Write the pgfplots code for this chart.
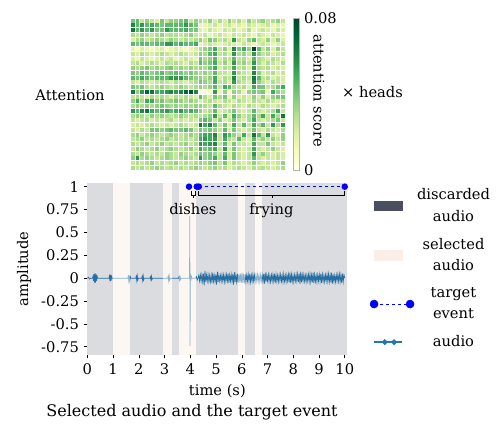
\documentclass[border=0pt]{standalone}
\usepackage{pgfplots}
\pgfplotsset{compat=1.18}
\usepackage{pgfplotstable}
\usepackage{fontspec}
\setmainfont{DejaVu Serif}

\definecolor{discdark}{HTML}{4A4E5E}
\definecolor{selbeige}{HTML}{F9EFE6}
\definecolor{audioblue}{HTML}{1F77B4}

\pgfplotsset{
  /pgf/number format/assume math mode=true,
  colormap={ylgn}{rgb255=(255,255,229) rgb255=(247,252,185) rgb255=(217,240,163)
    rgb255=(173,221,142) rgb255=(120,198,121) rgb255=(65,171,93) rgb255=(35,132,67)
    rgb255=(0,104,55) rgb255=(0,69,41)},
}

% attention scores x 1000, one line per head row, 32 columns
\pgfplotstableread[header=false]{
40 45 25 35 25 20 40 25 35 35 40 45 25 35 30 25 35 20 30 20 35 25 30 20 35 25 30 35 25 30 35 25
60 45 55 45 50 45 40 45 45 45 45 55 45 40 15 15 20 25 15 20 25 15 20 15 25 20 15 20 25 15 20 15
65 45 55 45 55 40 40 55 45 45 45 50 40 40 20 15 25 20 15 25 20 25 15 20 30 15 20 25 20 15 25 20
30 25 35 30 25 30 35 25 30 30 25 30 35 25 20 25 15 20 25 20 15 25 20 25 20 15 25 20 15 25 20 15
20 30 35 25 30 35 30 25 35 30 25 30 25 30 35 25 40 35 25 30 20 55 25 20 35 45 25 20 35 20 35 20
45 40 45 45 40 45 45 55 55 45 50 45 45 50 15 20 25 20 15 20 25 20 15 25 20 15 20 25 20 15 20 25
15 10 20 15 10 15 20 10 15 20 15 10 15 20 30 35 40 50 25 35 20 60 40 50 35 80 45 25 35 20 35 25
25 20 30 25 20 25 30 25 20 25 30 25 20 25 35 30 45 50 25 30 20 55 30 35 25 55 35 25 30 20 25 30
20 15 25 20 15 20 25 20 25 15 20 25 20 15 40 30 35 45 20 30 25 45 25 30 20 45 30 25 20 30 25 20
25 30 20 25 30 25 20 30 25 30 25 20 30 25 45 35 40 50 25 35 20 55 30 35 25 55 30 20 30 25 20 30
35 30 35 40 30 35 30 35 40 30 35 30 35 30 35 30 40 50 20 30 25 50 25 30 20 55 30 25 30 20 25 20
40 35 45 40 35 40 45 35 40 45 40 35 40 35 30 35 30 45 25 25 20 55 30 25 20 60 35 20 25 30 20 25
45 40 50 45 40 45 45 45 55 55 55 45 40 35 35 30 35 50 20 30 25 60 25 30 25 65 45 25 30 20 25 20
25 20 30 25 20 25 30 25 20 30 25 20 25 30 40 35 30 50 25 30 20 55 30 25 20 60 35 25 20 30 25 20
40 35 40 30 25 30 35 30 25 30 35 30 25 30 35 30 35 45 25 50 45 30 25 30 20 50 40 40 25 30 40 50
65 35 55 70 65 50 50 55 60 55 60 70 75 60 5 5 10 55 15 35 10 35 30 15 35 40 35 40 15 50 35 30
25 30 25 20 30 25 30 25 20 30 25 30 25 20 45 30 20 40 30 40 15 35 20 25 20 35 20 35 20 35 40 40
35 50 30 50 50 35 40 30 35 40 35 30 35 30 20 25 30 25 20 30 25 20 30 25 20 30 25 20 30 25 20 25
30 35 30 35 30 35 40 35 30 35 30 35 30 35 35 30 25 45 30 25 20 30 25 20 30 25 20 30 25 20 25 30
55 45 60 65 50 45 50 55 45 50 55 45 50 45 35 25 30 45 20 25 30 40 25 20 25 45 25 20 25 30 50 25
30 35 30 25 35 30 35 30 25 30 35 30 25 30 25 30 35 55 25 45 20 50 35 25 30 45 30 50 25 50 30 65
25 20 25 30 20 25 20 25 30 20 25 20 25 20 40 45 40 25 35 20 25 40 25 20 30 50 25 20 25 30 40 25
20 25 20 25 30 25 20 25 20 25 30 25 20 25 65 50 60 45 25 40 20 50 25 45 25 50 30 45 25 55 30 55
25 20 30 25 40 40 35 40 45 40 40 45 40 25 40 35 40 35 25 45 20 40 25 20 25 40 25 20 30 25 20 30
30 35 25 30 35 30 25 30 35 30 25 30 35 30 45 50 50 60 25 55 45 35 25 50 25 65 45 25 55 25 20 35
25 30 35 25 30 25 30 35 25 30 25 30 25 30 50 55 50 55 25 50 30 25 45 25 20 45 25 35 25 35 25 35
30 25 30 35 25 30 35 25 30 25 30 35 25 30 55 50 55 60 25 45 20 40 25 25 20 50 25 25 40 25 20 25
25 35 30 25 30 35 25 30 35 30 25 30 35 25 50 40 45 50 25 55 20 40 25 20 25 50 25 20 25 35 25 20
30 25 35 30 25 30 25 35 30 25 35 30 25 30 40 35 40 35 25 45 20 40 25 20 25 55 25 35 25 20 25 20
35 55 30 35 30 25 30 35 30 25 30 35 30 25 55 35 40 50 25 50 20 40 25 20 25 45 25 20 25 20 25 20
25 30 25 30 35 25 30 25 30 35 25 30 25 30 35 30 35 40 25 40 20 30 25 20 25 35 25 20 25 20 25 35
30 25 30 25 30 35 30 25 30 25 30 25 30 35 30 25 30 35 25 30 20 25 30 25 20 30 25 30 25 20 25 30
}\heat

\begin{document}
\fontsize{11}{13.5}\selectfont
\begin{tikzpicture}
\path[use as bounding box] (0,0) rectangle (375pt,326.25pt);

% ---- attention heatmap ----
\begin{axis}[
  at={(97.5pt,198.75pt)}, anchor=south west,
  scale only axis, width=116.25pt, height=114pt,
  xmin=-0.5, xmax=31.5, ymin=-0.5, ymax=31.5, y dir=reverse,
  axis line style={draw=none}, xtick=\empty, ytick=\empty,
  colormap name=ylgn,
  point meta min=0, point meta max=80,
  colorbar,
  colorbar style={
    xshift=6pt-0.3cm, width=4.5pt,
    ytick={0,80}, yticklabels={0,0.08},
    major tick length=0pt,
    axis line style={draw=gray!60, line width=0.4pt},
  },
]
\pgfplotsinvokeforeach{0,...,31}{
  \addplot[scatter, only marks, mark=square*, mark size=1.1pt, point meta=explicit,
    scatter/use mapped color={draw=mapped color, fill=mapped color}]
    table[x expr=#1, y expr=\coordindex, meta index=#1]{\heat};
}
\end{axis}

% ---- audio + events ----
\begin{axis}[
  at={(65.5pt,60pt)}, anchor=south west,
  scale only axis, width=195pt, height=129pt,
  xmin=0, xmax=10.1, ymin=-0.84, ymax=1.04,
  xtick={0,1,2,3,4,5,6,7,8,9,10},
  ytick={-0.75,-0.5,-0.25,0,0.25,0.5,0.75,1},
  yticklabels={-0.75,-0.5,-0.25,0,0.25,0.5,0.75,1},
  axis line style={draw=none},
  tick align=outside, xtick pos=bottom, ytick pos=left,
  major tick length=2.5pt, tick style={black, line width=0.4pt},
  xlabel={time (s)}, ylabel={amplitude},
  clip=false,
  legend style={at={(1.07,1.0)}, anchor=north west, draw=none, fill=none,
    font=\fontsize{11}{16}\selectfont, cells={align=center}, row sep=7pt},
]
% waveform
\addplot[audioblue, line width=0.55pt, forget plot] coordinates {
(0,0)(0.05,0.01)(0.08,-0.01)(0.12,0)(0.20,0)(0.22,0.02)(0.24,-0.03)(0.26,0.045)(0.28,-0.05)
(0.30,0.055)(0.32,-0.05)(0.34,0.04)(0.36,-0.03)(0.38,0.02)(0.40,0)
(0.84,0)(0.86,0.025)(0.88,-0.035)(0.90,0.035)(0.92,-0.03)(0.94,0.02)(0.96,0)
(1.57,0)(1.59,0.02)(1.61,-0.03)(1.63,0.03)(1.65,-0.025)(1.67,0.015)(1.69,0)
(1.88,0)(1.90,0.02)(1.92,-0.025)(1.94,0.025)(1.96,-0.02)(1.98,0)
(2.11,0)(2.13,0.02)(2.15,-0.025)(2.17,0.025)(2.19,-0.02)(2.21,0)
(2.43,0)(2.45,0.015)(2.47,-0.02)(2.49,0.02)(2.51,-0.015)(2.53,0)
(3.12,0)(3.14,0.02)(3.16,-0.025)(3.18,0.025)(3.20,-0.02)(3.22,0)
(3.54,0)(3.56,0.015)(3.58,-0.02)(3.60,0.02)(3.62,-0.015)(3.64,0)
(3.97,0)(3.98,0.68)(3.99,-0.74)(4.00,0.05)(4.02,-0.03)(4.04,0.02)(4.06,0)
(4.20,0)(4.24,0.015)(4.27,-0.02)
(4.30,0.00)(4.33,0.03)(4.36,-0.03)(4.39,0.035)(4.42,-0.03)(4.45,0.04)(4.48,-0.035)(4.51,0.05)
(4.54,-0.08)(4.57,0.08)(4.60,-0.04)(4.63,0.035)(4.66,-0.03)(4.69,0.04)(4.72,-0.035)(4.75,0.03)
(4.78,-0.04)(4.81,0.035)(4.84,-0.05)(4.87,0.06)(4.90,-0.035)(4.93,0.03)(4.96,-0.035)(4.99,0.04)
(5.02,-0.07)(5.05,0.07)(5.08,-0.04)(5.11,0.035)(5.14,-0.03)(5.17,0.03)(5.20,-0.035)(5.23,0.04)
(5.26,-0.03)(5.29,0.035)(5.32,-0.04)(5.35,0.03)(5.38,-0.035)(5.41,0.04)(5.44,-0.03)(5.47,0.05)
(5.50,-0.05)(5.53,0.035)(5.56,-0.03)(5.59,0.04)(5.62,-0.035)(5.65,0.045)(5.68,-0.07)(5.71,0.065)
(5.74,-0.04)(5.77,0.035)(5.80,-0.04)(5.83,0.045)(5.86,-0.05)(5.89,0.05)(5.92,-0.045)(5.95,0.05)
(5.98,-0.055)(6.01,0.06)(6.04,-0.05)(6.07,0.045)(6.10,-0.05)(6.13,0.04)(6.16,-0.04)(6.19,0.035)
(6.22,-0.03)(6.25,0.04)(6.28,-0.035)(6.31,0.05)(6.34,-0.04)(6.37,0.03)(6.40,-0.035)(6.43,0.04)
(6.46,-0.03)(6.49,0.035)(6.52,-0.04)(6.55,0.035)(6.58,-0.03)(6.61,0.04)(6.64,-0.035)(6.67,0.03)
(6.70,-0.04)(6.73,0.035)(6.76,-0.03)(6.79,0.04)(6.82,-0.035)(6.85,0.045)(6.88,-0.06)(6.91,0.06)
(6.94,-0.04)(6.97,0.035)(7.00,-0.03)(7.03,0.04)(7.06,-0.035)(7.09,0.03)(7.12,-0.04)(7.15,0.035)
(7.18,-0.03)(7.21,0.04)(7.24,-0.035)(7.27,0.05)(7.30,-0.05)(7.33,0.04)(7.36,-0.035)(7.39,0.03)
(7.42,-0.04)(7.45,0.035)(7.48,-0.03)(7.51,0.04)(7.54,-0.035)(7.57,0.03)(7.60,-0.04)(7.63,0.045)
(7.66,-0.035)(7.69,0.03)(7.72,-0.04)(7.75,0.035)(7.78,-0.03)(7.81,0.04)(7.84,-0.045)(7.87,0.06)
(7.90,-0.055)(7.93,0.04)(7.96,-0.035)(7.99,0.03)(8.02,-0.04)(8.05,0.035)(8.08,-0.03)(8.11,0.04)
(8.14,-0.035)(8.17,0.045)(8.20,-0.04)(8.23,0.05)(8.26,-0.065)(8.29,0.07)(8.32,-0.045)(8.35,0.035)
(8.38,-0.03)(8.41,0.04)(8.44,-0.035)(8.47,0.03)(8.50,-0.04)(8.53,0.035)(8.56,-0.03)(8.59,0.04)
(8.62,-0.035)(8.65,0.045)(8.68,-0.04)(8.71,0.035)(8.74,-0.045)(8.77,0.06)(8.80,-0.055)(8.83,0.04)
(8.86,-0.035)(8.89,0.03)(8.92,-0.04)(8.95,0.035)(8.98,-0.03)(9.01,0.04)(9.04,-0.035)(9.07,0.05)
(9.10,-0.05)(9.13,0.04)(9.16,-0.035)(9.19,0.03)(9.22,-0.04)(9.25,0.035)(9.28,-0.03)(9.31,0.04)
(9.34,-0.035)(9.37,0.045)(9.40,-0.04)(9.43,0.035)(9.46,-0.045)(9.49,0.06)(9.52,-0.06)(9.55,0.04)
(9.58,-0.035)(9.61,0.03)(9.64,-0.04)(9.67,0.035)(9.70,-0.03)(9.73,0.04)(9.76,-0.035)(9.79,0.045)
(9.82,-0.04)(9.85,0.035)(9.88,-0.05)(9.91,0.05)(9.94,-0.04)(9.97,0.035)(10.00,0.00)
};
% discarded spans
\addplot[draw=none, fill=discdark, fill opacity=0.2, forget plot] coordinates {(0,-0.84)(0,1.04)(1.0,1.04)(1.0,-0.84)} -- cycle;
\addplot[draw=none, fill=discdark, fill opacity=0.2, forget plot] coordinates {(1.65,-0.84)(1.65,1.04)(2.95,1.04)(2.95,-0.84)} -- cycle;
\addplot[draw=none, fill=discdark, fill opacity=0.2, forget plot] coordinates {(3.3,-0.84)(3.3,1.04)(3.57,1.04)(3.57,-0.84)} -- cycle;
\addplot[draw=none, fill=discdark, fill opacity=0.2, forget plot] coordinates {(4.21,-0.84)(4.21,1.04)(5.85,1.04)(5.85,-0.84)} -- cycle;
\addplot[draw=none, fill=discdark, fill opacity=0.2, forget plot] coordinates {(6.14,-0.84)(6.14,1.04)(6.5,1.04)(6.5,-0.84)} -- cycle;
\addplot[draw=none, fill=discdark, fill opacity=0.2, forget plot] coordinates {(6.8,-0.84)(6.8,1.04)(10.1,1.04)(10.1,-0.84)} -- cycle;
% selected spans
\addplot[draw=none, fill=selbeige, fill opacity=0.5, forget plot] coordinates {(1.0,-0.84)(1.0,1.04)(1.65,1.04)(1.65,-0.84)} -- cycle;
\addplot[draw=none, fill=selbeige, fill opacity=0.5, forget plot] coordinates {(2.95,-0.84)(2.95,1.04)(3.3,1.04)(3.3,-0.84)} -- cycle;
\addplot[draw=none, fill=selbeige, fill opacity=0.5, forget plot] coordinates {(3.57,-0.84)(3.57,1.04)(4.21,1.04)(4.21,-0.84)} -- cycle;
\addplot[draw=none, fill=selbeige, fill opacity=0.5, forget plot] coordinates {(5.85,-0.84)(5.85,1.04)(6.14,1.04)(6.14,-0.84)} -- cycle;
\addplot[draw=none, fill=selbeige, fill opacity=0.5, forget plot] coordinates {(6.5,-0.84)(6.5,1.04)(6.8,1.04)(6.8,-0.84)} -- cycle;
% target events
\addplot[blue, line width=0.8pt, dash pattern=on 2.5pt off 2pt, mark=*, mark size=2pt,
  mark options={solid}, forget plot] coordinates {(3.95,1)(4.25,1)};
\addplot[blue, line width=0.8pt, dash pattern=on 2.5pt off 2pt, mark=*, mark size=2pt,
  mark options={solid}, forget plot] coordinates {(4.33,1)(10,1)};
% brackets
\addplot[black, line width=0.5pt, forget plot] coordinates {(4.05,0.95)(4.05,0.90)(4.2,0.90)(4.2,0.95)};
\addplot[black, line width=0.5pt, forget plot] coordinates {(4.125,0.90)(4.125,0.875)};
\addplot[black, line width=0.5pt, forget plot] coordinates {(4.33,0.95)(4.33,0.90)(10,0.90)(10,0.95)};
\addplot[black, line width=0.5pt, forget plot] coordinates {(7.17,0.90)(7.17,0.875)};
\node[anchor=base] at (axis cs:4.1,0.70) {dishes};
\node[anchor=base] at (axis cs:7.15,0.70) {frying};
% legend
\addlegendimage{legend image code/.code={\fill[discdark] (0pt,-3.5pt) rectangle (21pt,3.5pt);}}
\addlegendentry{discarded\\audio}
\addlegendimage{legend image code/.code={\fill[selbeige] (0pt,-3.5pt) rectangle (21pt,3.5pt);}}
\addlegendentry{selected\\audio}
\addlegendimage{legend image code/.code={
  \draw[blue, line width=0.8pt, dash pattern=on 2.5pt off 2pt] (0pt,0pt) -- (27pt,0pt);
  \fill[blue] (0pt,0pt) circle (3pt); \fill[blue] (27pt,0pt) circle (3pt);}}
\addlegendentry{target\\event}
\addlegendimage{legend image code/.code={
  \draw[audioblue, line width=1.2pt] (0pt,0pt) -- (21pt,0pt);
  \fill[audioblue] (8pt,2pt) -- (10pt,0pt) -- (8pt,-2pt) -- (6pt,0pt) -- cycle;
  \fill[audioblue] (15pt,2pt) -- (17pt,0pt) -- (15pt,-2pt) -- (13pt,0pt) -- cycle;}}
\addlegendentry{audio}
\end{axis}

\node at (52.5pt,255pt) {Attention};
\node[rotate=-90] at (239.25pt,258pt) {attention score};
\node at (279.4pt,257.25pt) {× heads};
\node[font=\fontsize{12}{14}\selectfont] at (144pt,17.25pt) {Selected audio and the target event};
\end{tikzpicture}
\end{document}
